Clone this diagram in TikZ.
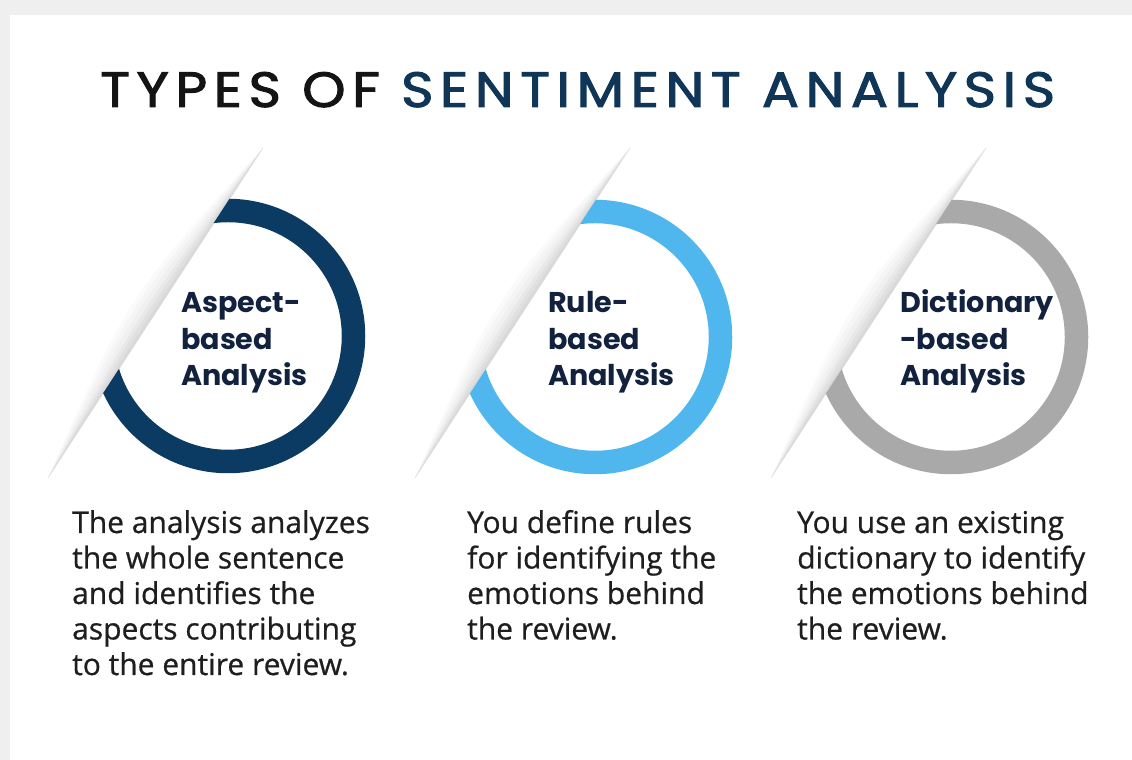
\documentclass[tikz,border=0pt]{standalone}
\usepackage{graphicx}
\usepackage{fontspec}
\newfontfamily\titlefont[LetterSpace=12,FakeBold=2]{Poppins}
\newfontfamily\labfont{Poppins}
\newfontfamily\bodyfont[FakeBold=0.6]{Open Sans}
\definecolor{bggrey}{HTML}{EFEFEF}
\definecolor{titleblack}{HTML}{141414}
\definecolor{navy}{HTML}{0F3557}
\definecolor{ringA}{HTML}{0B3A63}
\definecolor{ringB}{HTML}{4FB7EE}
\definecolor{ringC}{HTML}{A9A9A9}
\definecolor{labcol}{HTML}{12223E}
\definecolor{bodycol}{HTML}{1E1E1E}
\tikzset{
  labtext/.style={anchor=base west, inner sep=0pt, text=labcol, font=\labfont\bfseries\fontsize{28.6}{28.6}\selectfont},
  bodytext/.style={anchor=base west, inner sep=0pt, text=bodycol, font=\bodyfont\fontsize{30}{30}\selectfont},
  ringline/.style={line width=23.5pt}
}
\begin{document}
\begin{tikzpicture}[x=1pt,y=1pt]
\useasboundingbox (0,0) rectangle (1132,760);
\fill[bggrey] (0,0) rectangle (1132,760);
\fill[white] (10,0) rectangle (1132,745);

\node[anchor=base west, inner sep=0pt, font=\titlefont\fontsize{50}{50}\selectfont] (title) at (100,653)
  {\resizebox{955pt}{35pt}{\textcolor{titleblack}{TYPES OF} \textcolor{navy}{SENTIMENT ANALYSIS}}};

\foreach \cx/\cy/\col/\n in {228/424/ringA/1, 595/423/ringB/2, 951/423/ringC/3}{
  % shadow along the fold line
  \foreach \w/\g in {16/2,13/4,10/6,7/9,4.5/12,2/15}{
    \fill[black!\g] ({\cx-180},282) .. controls ({\cx-72.5-1.676*\w},{447+1.09*\w}) .. ({\cx+35},612) -- cycle;
  }
  \coordinate (c\n) at (\cx,\cy);
  \begin{scope}
    \clip ({\cx-245},182) -- ({\cx+99.5},712) -- ({\cx+400},712) -- ({\cx+400},182) -- cycle;
    \draw[ringline, \col] (c\n) circle (125.5);
  \end{scope}
}

% labels
\node[labtext] (a1) at (181,447) {Aspect-};
\node[labtext] (a2) at (181,410.5) {based};
\node[labtext] (a3) at (181,374) {Analysis};
\node[labtext] (b1) at (548,447) {Rule-};
\node[labtext] (b2) at (548,410.5) {based};
\node[labtext] (b3) at (548,374) {Analysis};
\node[labtext] (d1) at (900,447) {Dictionary};
\node[labtext] (d2) at (900,410.5) {-based};
\node[labtext] (d3) at (900,374) {Analysis};

% body texts
\node[bodytext] (t11) at (72,227) {The analysis analyzes};
\node[bodytext] (t12) at (72,191.5) {the whole sentence};
\node[bodytext] (t13) at (72,156) {and identifies the};
\node[bodytext] (t14) at (72,120.5) {aspects contributing};
\node[bodytext] (t15) at (72,85) {to the entire review.};
\node[bodytext] (t21) at (467,227) {You define rules};
\node[bodytext] (t22) at (467,191.5) {for identifying the};
\node[bodytext] (t23) at (467,156) {emotions behind};
\node[bodytext] (t24) at (467,120.5) {the review.};
\node[bodytext] (t31) at (797,227) {You use an existing};
\node[bodytext] (t32) at (797,191.5) {dictionary to identify};
\node[bodytext] (t33) at (797,156) {the emotions behind};
\node[bodytext] (t34) at (797,120.5) {the review.};
\end{tikzpicture}
\end{document}
